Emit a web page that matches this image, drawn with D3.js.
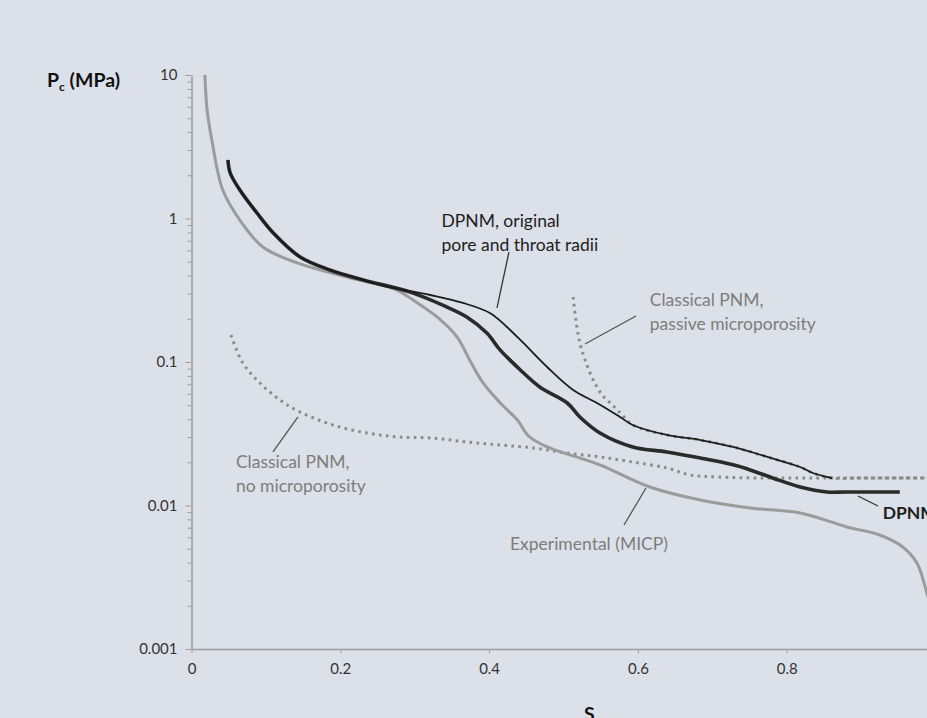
<!DOCTYPE html>
<html>
<head>
<meta charset="utf-8">
<script src="https://cdn.jsdelivr.net/npm/d3@7"></script>
<style>
  html, body { margin: 0; padding: 0; overflow: hidden; background: #dce0e8; }
  text { font-family: Lato, 'Open Sans', sans-serif; }
</style>
</head>
<body>
<div id="visualization"></div>
<script>
// values: [Sw, Pc (MPa)]
const experimental = [
  [0.018, 10], [0.021, 5.70], [0.028, 3.36], [0.042, 1.58], [0.065, 0.976],
  [0.096, 0.633], [0.142, 0.490], [0.209, 0.391], [0.276, 0.317], [0.298, 0.270],
  [0.330, 0.206], [0.357, 0.149], [0.374, 0.103], [0.392, 0.0714], [0.415, 0.0518],
  [0.438, 0.0394], [0.453, 0.0305], [0.478, 0.0256], [0.522, 0.0214], [0.549, 0.0192],
  [0.616, 0.01346], [0.684, 0.01092], [0.751, 0.00961], [0.818, 0.00887], [0.881, 0.00709],
  [0.925, 0.00623], [0.956, 0.00514], [0.975, 0.00397], [0.989, 0.00240], [0.997, 0.00175]
]

const dpnm = [
  [0.049, 2.557], [0.052, 2.075], [0.065, 1.580], [0.088, 1.092], [0.110, 0.792],
  [0.146, 0.539], [0.186, 0.438], [0.231, 0.373], [0.294, 0.307], [0.343, 0.242],
  [0.370, 0.206], [0.397, 0.159], [0.415, 0.121], [0.442, 0.0880], [0.468, 0.0670],
  [0.505, 0.0518], [0.522, 0.0414], [0.549, 0.0320], [0.593, 0.0256], [0.639, 0.0236],
  [0.684, 0.0214], [0.728, 0.0192], [0.751, 0.0177], [0.782, 0.0155], [0.818, 0.01346],
  [0.854, 0.01242], [0.880, 0.01242], [0.952, 0.01242]
]

const dpnmOriginal = [
  [0.049, 2.557], [0.052, 2.075], [0.065, 1.580], [0.088, 1.092], [0.110, 0.792],
  [0.146, 0.539], [0.186, 0.438], [0.231, 0.373], [0.253, 0.344], [0.321, 0.293],
  [0.365, 0.258], [0.401, 0.2196], [0.424, 0.1754], [0.446, 0.1357], [0.478, 0.0923],
  [0.513, 0.0638], [0.545, 0.0518], [0.576, 0.0414], [0.593, 0.0364], [0.639, 0.0310],
  [0.684, 0.0286], [0.728, 0.0256], [0.774, 0.0218], [0.818, 0.01855], [0.835, 0.01685],
  [0.861, 0.01554]
]

const pnmNoMicro = [
  [0.053, 0.1542], [0.069, 0.0984], [0.092, 0.0714], [0.119, 0.0543], [0.146, 0.0448],
  [0.190, 0.0364], [0.236, 0.0320], [0.280, 0.0300], [0.325, 0.0295], [0.370, 0.0277],
  [0.415, 0.0264], [0.459, 0.0252], [0.505, 0.0232], [0.549, 0.0218], [0.593, 0.0201],
  [0.639, 0.01826], [0.670, 0.01632], [0.706, 0.01580], [0.774, 0.01554], [0.850, 0.01554],
  [1.0, 0.01554]
]

const pnmPassive = [
  [0.513, 0.2838], [0.517, 0.190], [0.522, 0.1357], [0.529, 0.1032], [0.540, 0.0749],
  [0.553, 0.0580], [0.567, 0.0494], [0.579, 0.0427], [0.593, 0.0364], [0.639, 0.0310],
  [0.684, 0.0286], [0.728, 0.0256], [0.774, 0.0218], [0.818, 0.01855], [0.835, 0.01685],
  [0.861, 0.01554], [0.900, 0.01554], [1.0, 0.01554]
]

const xTicks = [0, 0.2, 0.4, 0.6, 0.8, 1]
const xTickLabels = ['0', '0.2', '0.4', '0.6', '0.8', '']
const yTicks = [0.001, 0.01, 0.1, 1, 10]
const yTickLabels = ['0.001', '0.01', '0.1', '1', '10']

// labels with leader lines, anchored in data units
const notes = [
  { lines: ['DPNM, original', 'pore and throat radii'], at: [0.336, 0.87], from: [0.4267, 0.584], to: [0.4106, 0.238], kind: 'dark' },
  { lines: ['Classical PNM,', 'passive microporosity'], at: [0.616, 0.245], from: [0.5974, 0.2093], to: [0.5289, 0.1335], kind: 'grey' },
  { lines: ['Classical PNM,', 'no microporosity'], at: [0.0597, 0.0183], from: [0.1431, 0.0414], to: [0.1095, 0.0236], kind: 'grey' },
  { lines: ['Experimental (MICP)'], at: [0.428, 0.0049], from: [0.6109, 0.01324], to: [0.5813, 0.00731], kind: 'grey' },
  { lines: ['DPNM'], at: [0.929, 0.0080], from: [0.8958, 0.01164], to: [0.9227, 0.00992], kind: 'bold' }
]

const W = 927
const H = 718

const svg = d3.select('#visualization').append('svg')
  .attr('width', W)
  .attr('height', H)

const x = d3.scaleLinear().domain([0, 1]).range([191.5, 935.5])
const y = d3.scaleLog().domain([0.001, 10]).range([649, 75])

// minor log ticks
const minor = []
for (let e = -3; e < 1; e++) {
  for (let k = 2; k <= 9; k++) minor.push(k * Math.pow(10, e))
}

const axisColor = '#9c9c9c'

const gyMinor = svg.append('g').attr('transform', `translate(${x(0)},0)`)
  .call(d3.axisLeft(y).tickValues(minor).tickSize(4).tickSizeOuter(0).tickFormat(''))
gyMinor.select('.domain').remove()

svg.append('g').attr('transform', `translate(${x(0)},0)`)
  .call(d3.axisLeft(y).tickValues(yTicks).tickSize(6).tickSizeOuter(0).tickPadding(8)
    .tickFormat((d, i) => yTickLabels[i]))

svg.append('g').attr('transform', `translate(0,${y(0.001)})`)
  .call(d3.axisBottom(x).tickValues(xTicks).tickSize(4).tickSizeOuter(0).tickPadding(10)
    .tickFormat((d, i) => xTickLabels[i]))

svg.selectAll('.domain').attr('stroke', axisColor).attr('stroke-width', 1.5)
svg.selectAll('.tick line').attr('stroke', axisColor)
svg.selectAll('.tick text').attr('fill', '#333').style('font-size', '15px')
  .style('font-family', 'Lato, sans-serif')

const line = d3.line().x(d => x(d[0])).y(d => y(d[1])).curve(d3.curveCatmullRom.alpha(0.5))

const series = [
  { data: pnmNoMicro, color: '#8a8a8a', width: 3, dash: '2.6,4.4' },
  { data: pnmPassive, color: '#8a8a8a', width: 3, dash: '2.6,4.4' },
  { data: experimental, color: '#9b9b9b', width: 3, dash: null },
  { data: dpnm, color: '#2a2a2a', width: 3.6, dash: null },
  { data: dpnmOriginal, color: '#1c1c1c', width: 1.8, dash: null }
]

series.forEach(s => {
  svg.append('path')
    .datum(s.data)
    .attr('fill', 'none')
    .attr('stroke', s.color)
    .attr('stroke-width', s.width)
    .attr('stroke-dasharray', s.dash)
    .attr('stroke-linejoin', 'round')
    .attr('d', line)
})

// annotations
notes.forEach(n => {
  const dark = n.kind !== 'grey'
  svg.append('line')
    .attr('x1', x(n.from[0])).attr('y1', y(n.from[1]))
    .attr('x2', x(n.to[0])).attr('y2', y(n.to[1]))
    .attr('stroke', dark ? '#333' : '#555')
    .attr('stroke-width', 1.3)
  const t = svg.append('text')
    .attr('x', x(n.at[0]))
    .attr('y', y(n.at[1]))
    .attr('fill', dark ? '#1e1e1e' : '#7d7d7d')
    .style('font-size', '17.5px')
    .style('font-weight', n.kind === 'bold' ? 'bold' : 'normal')
  n.lines.forEach((l, i) => {
    t.append('tspan').attr('x', x(n.at[0])).attr('dy', i === 0 ? 0 : 24).text(l)
  })
})

// axis titles
const py = svg.append('text').attr('x', 47).attr('y', 87)
  .attr('fill', '#111').style('font-size', '19.5px').style('font-weight', 'bold')
py.append('tspan').text('P')
py.append('tspan').attr('dy', 4).style('font-size', '12px').text('c')
py.append('tspan').attr('dy', -4).text(' (MPa)')

const sx = svg.append('text').attr('x', 584).attr('y', 721)
  .attr('fill', '#111').style('font-size', '19.5px').style('font-weight', 'bold')
sx.append('tspan').text('S')
sx.append('tspan').attr('dy', 4).style('font-size', '12px').text('w')
</script>
</body>
</html>
